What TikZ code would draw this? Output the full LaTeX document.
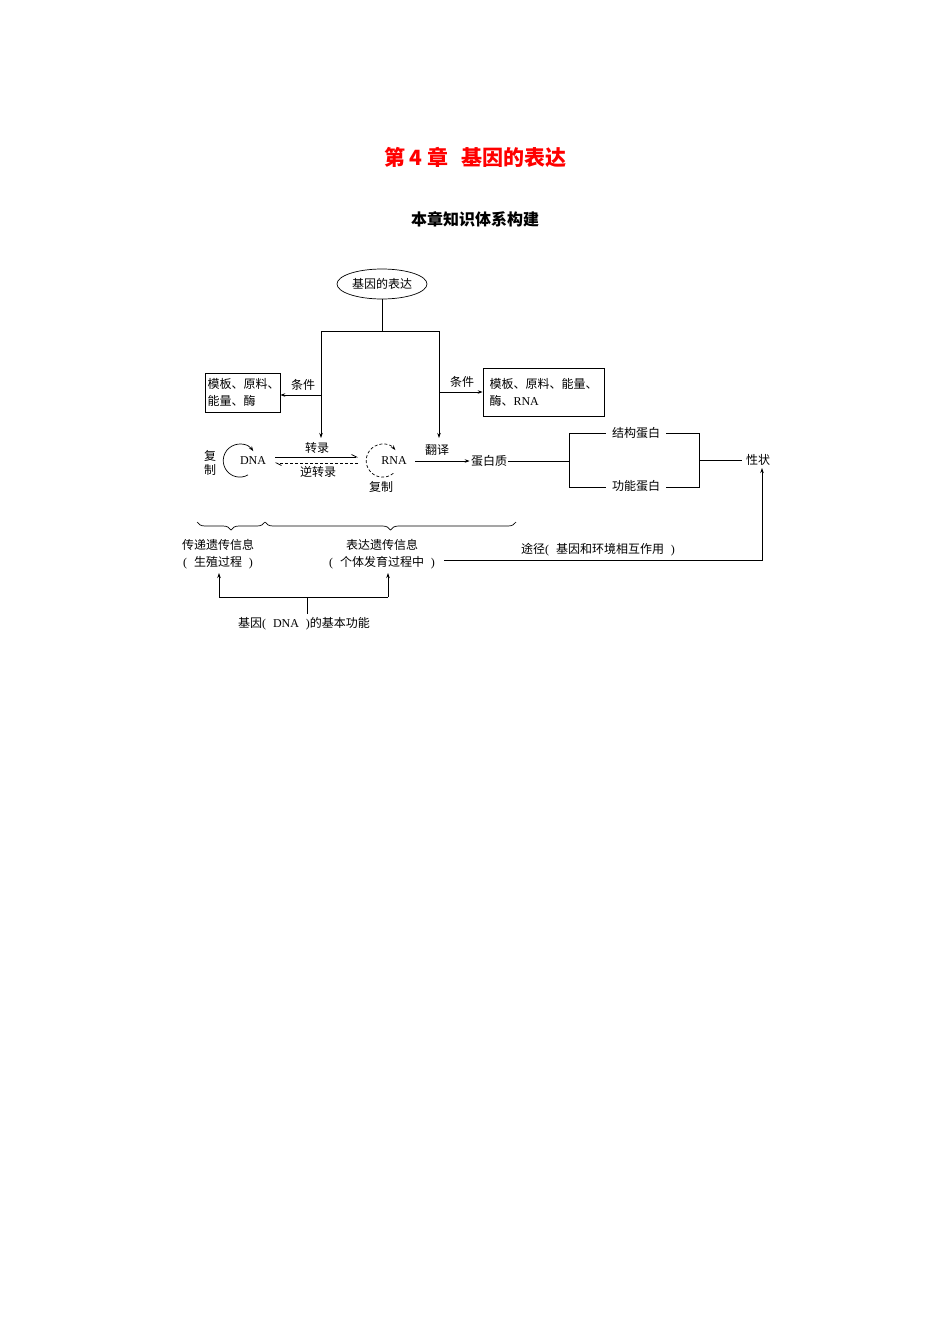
\documentclass[tikz,border=0pt]{standalone}
\usepackage{fontspec}
\setmainfont{Liberation Serif}
\newfontfamily\cjk{Noto Sans CJK SC}
\usetikzlibrary{arrows.meta,decorations.pathreplacing,shapes.geometric}
\newcommand\lpar{\makebox[0.9em][l]{\rmfamily(}}
\newcommand\rpar{\makebox[0.9em][r]{\rmfamily)}}
\begin{document}
\begin{tikzpicture}[x=1pt,y=-1pt,
  font=\cjk\fontsize{12}{17}\selectfont,
  line width=0.7pt,
  arr/.style={-{Stealth[length=5pt,width=3.5pt]}},
  harp/.style={-{Straight Barb[harpoon,length=5pt,width=5pt]}},
  txt/.style={inner sep=1pt},
  box/.style={draw, align=left, inner ysep=3pt},
  brc/.style={decorate, decoration={brace, amplitude=8pt}}]
\useasboundingbox (0,0) rectangle (950,1344);
% titles
\node[text=red, font=\cjk\bfseries\fontsize{21}{24}\selectfont] (title) at (475,157) {第 4 章\hspace{0.6em}基因的表达};
\node[font=\cjk\bfseries\fontsize{16}{20}\selectfont] (sub) at (475,219) {本章知识体系构建};
% top
\node[draw, ellipse, inner sep=1pt, minimum width=90pt, minimum height=30pt] (gene) at (382,284) {基因的表达};
\coordinate (j) at (382,331);
\coordinate (tl) at (321,331);
\coordinate (tr) at (439,331);
\coordinate (ta) at (321,438);
\coordinate (ra) at (439,438);
\draw (gene.south) -- (j);
\draw (tl) -- (tr);
\draw[arr] (tl) -- (ta);
\draw[arr] (tr) -- (ra);
% condition boxes
\node[box, text width=70pt, inner xsep=2.5pt, minimum height=39pt] (lbox) at (242.5,392.5) {模板、原料、\\能量、酶};
\node[box, text width=108pt, inner xsep=6.5pt, minimum height=48pt] (rbox) at (543.5,392) {模板、原料、能量、\\酶、{\rmfamily RNA}};
\coordinate (lc) at (321,395);
\coordinate (rc) at (439,392);
\draw[arr] (lc) -- (lbox.east |- lc);
\draw[arr] (rc) -- (rbox.west |- rc);
\node[txt] (lcl) at (303,385) {条件};
\node[txt] (rcl) at (462,382) {条件};
% DNA / RNA
\node[txt] (dna) at (253,461) {\rmfamily DNA};
\node[txt, align=center, font=\cjk\fontsize{12}{14}\selectfont] (dnarep) at (210,463) {复\\制};
\draw[arr] (248,474.9) arc[start angle=60, end angle=325, radius=16.5];
\node[txt] (rna) at (394,461) {\rmfamily RNA};
\draw[arr, dashed, dash pattern=on 3pt off 2pt] (393.3,473.3) arc[start angle=50, end angle=320, radius=16.5];
\node[txt] (rnarep) at (381,487) {复制};
\coordinate (t1) at (275,457);
\coordinate (t2) at (358,457);
\coordinate (r1) at (358,463);
\coordinate (r2) at (275,463);
\draw[harp] (t1) -- (t2);
\draw[harp, dashed, dash pattern=on 3pt off 2pt] (r1) -- (r2);
\node[txt] (tl1) at (317,448) {转录};
\node[txt] (tl2) at (318,472) {逆转录};
% translation
\node[txt] (prot) at (489,461) {蛋白质};
\coordinate (rnaout) at (415,461);
\draw[arr] (rnaout) -- (prot.west);
\node[txt] (tr1) at (437,450) {翻译};
% protein branches
\node[inner xsep=6pt, inner ysep=1pt] (sp) at (636,433) {结构蛋白};
\node[inner xsep=6pt, inner ysep=1pt] (fp) at (636,486) {功能蛋白};
\node[inner xsep=4pt, inner ysep=1pt] (trait) at (758,460) {性状};
\coordinate (b1) at (569,461);
\coordinate (b2) at (699,460);
\draw (prot.east) -- (b1);
\draw (sp.west) -- (569,433) -- (569,487) -- (fp.west |- 569,487);
\draw (sp.east) -- (699,433) -- (699,487) -- (fp.east |- 699,487);
\draw (b2) -- (trait.west |- b2);
% braces
\draw[brc] (265,522) -- (197,522);
\draw[brc] (516,522) -- (265,522);
\node[txt, align=center] (pass) at (218,554.5) {传递遗传信息\\\lpar 生殖过程\rpar};
\node[txt, align=center] (expr) at (382,554.5) {表达遗传信息\\\lpar 个体发育过程中\rpar};
% pathway
\coordinate (p1) at (444,560);
\coordinate (p2) at (762,560);
\coordinate (p3) at (762,468);
\draw[arr] (p1) -- (p2) -- (p3);
\node[txt] (path) at (598,550) {途径\lpar 基因和环境相互作用\rpar};
% bottom
\node[txt] (func) at (304,624) {基因\lpar {\rmfamily DNA}\rpar 的基本功能};
\coordinate (f1) at (307,614);
\coordinate (f2) at (307,597);
\coordinate (fl) at (219,597);
\coordinate (fr) at (388,597);
\coordinate (fla) at (219,573);
\coordinate (fra) at (388,573);
\draw (f1) -- (f2);
\draw (fl) -- (fr);
\draw[arr] (fl) -- (fla);
\draw[arr] (fr) -- (fra);
\end{tikzpicture}
\end{document}
